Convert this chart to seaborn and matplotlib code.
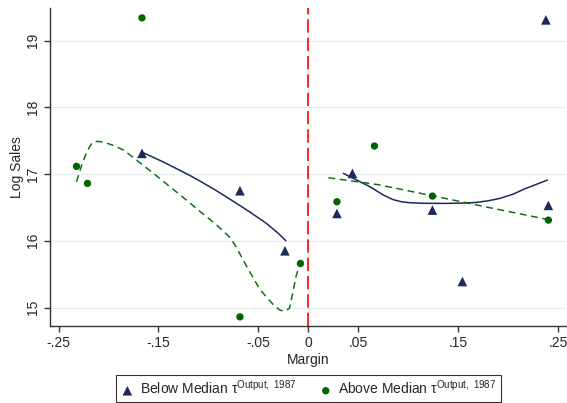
import matplotlib
matplotlib.use("Agg")
import matplotlib.pyplot as plt
import pandas as pd
import seaborn as sns

# scatter points
below_x = [-0.1665, -0.0685, -0.0235, 0.0285, 0.044, 0.124, 0.154, 0.240, 0.2375]
below_y = [17.31, 16.75, 15.85, 16.41, 17.01, 16.46, 15.39, 16.53, 19.31]
above_x = [-0.232, -0.221, -0.1665, -0.0685, -0.008, 0.0285, 0.066, 0.124, 0.240]
above_y = [17.115, 16.86, 19.34, 14.86, 15.66, 16.585, 17.42, 16.67, 16.31]

# smoothed fits (left / right of the cutoff)
below_fit_l_x = [-0.1668, -0.145, -0.120, -0.1085, -0.092, -0.075, -0.0585,
                 -0.042, -0.030, -0.0225]
below_fit_l_y = [17.33, 17.18, 16.99, 16.895, 16.75, 16.59, 16.43,
                 16.26, 16.11, 16.0]
below_fit_r_x = [0.035, 0.045, 0.0615, 0.075, 0.085, 0.093, 0.1015, 0.115,
                 0.135, 0.155, 0.168, 0.18, 0.1915, 0.205, 0.215, 0.227, 0.239]
below_fit_r_y = [17.01, 16.935, 16.81, 16.685, 16.615, 16.585, 16.57, 16.562,
                 16.56, 16.565, 16.575, 16.60, 16.635, 16.70, 16.77, 16.84, 16.91]
above_fit_l_x = [-0.232, -0.2268, -0.2218, -0.2168, -0.2118, -0.2052, -0.1952,
                 -0.185, -0.172, -0.155, -0.1385, -0.122, -0.1085, -0.092,
                 -0.0785, -0.072, -0.062, -0.0485, -0.035, -0.0285, -0.0235,
                 -0.019, -0.0158, -0.0125, -0.0085]
above_fit_l_y = [16.885, 17.135, 17.33, 17.46, 17.49, 17.48, 17.43,
                 17.36, 17.21, 17.01, 16.81, 16.61, 16.44, 16.24,
                 16.05, 15.90, 15.62, 15.27, 15.04, 14.96, 14.945,
                 14.99, 15.21, 15.46, 15.66]
above_fit_r_x = [0.020, 0.07, 0.124, 0.18, 0.239]
above_fit_r_y = [16.945, 16.84, 16.675, 16.50, 16.32]

xticks = [-0.25, -0.15, -0.05, 0, 0.05, 0.15, 0.25]
xtick_labels = ["-.25", "-.15", "-.05", "0", ".05", ".15", ".25"]
yticks = [15, 16, 17, 18, 19]

navy = "#1c2a5c"
green = "#006400"

sns.set_style("white")
plt.rcParams["font.family"] = ["Liberation Sans", "DejaVu Sans"]
plt.rcParams["mathtext.fontset"] = "custom"
plt.rcParams["mathtext.rm"] = "Liberation Sans"

fig = plt.figure(figsize=(5.67, 4.03), dpi=100)
ax = fig.add_axes([0.0882, 0.191, 0.9098, 0.789])

for y in yticks:
    ax.axhline(y, color="#e8eff1", lw=1, zorder=0)

ax.axvline(0, color="red", lw=1.2, dashes=(8, 3), zorder=1)

sns.lineplot(x=below_fit_l_x, y=below_fit_l_y, ax=ax, color=navy, lw=1.1, sort=False)
sns.lineplot(x=below_fit_r_x, y=below_fit_r_y, ax=ax, color=navy, lw=1.1, sort=False)
for xs, ys in [(above_fit_l_x, above_fit_l_y), (above_fit_r_x, above_fit_r_y)]:
    ln = sns.lineplot(x=xs, y=ys, ax=ax, color="#127012", lw=1.1, sort=False)
    ln.lines[-1].set_dashes((4.5, 3))

below = pd.DataFrame({"x": below_x, "y": below_y})
above = pd.DataFrame({"x": above_x, "y": above_y})
sns.scatterplot(data=below, x="x", y="y", ax=ax, marker="^", s=48, color=navy,
                edgecolor="none", zorder=3,
                label="Below Median τ$^{\\mathrm{Output,\\ 1987}}$")
sns.scatterplot(data=above, x="x", y="y", ax=ax, marker="o", s=28, color=green,
                edgecolor="none", zorder=3,
                label="Above Median τ$^{\\mathrm{Output,\\ 1987}}$")

ax.set_xlim(-0.2585, 0.2575)
ax.set_ylim(14.723, 19.487)
ax.set_xticks(xticks)
ax.set_xticklabels(xtick_labels, fontsize=10)
ax.set_yticks(yticks)
ax.set_yticklabels([str(v) for v in yticks], fontsize=10, rotation=90, va="center")
ax.tick_params(axis="both", direction="out", length=4, width=1, color="#333333",
               left=True, bottom=True)
ax.set_xlabel("Margin", fontsize=10, labelpad=2)
ax.set_ylabel("Log Sales", fontsize=10, labelpad=1)

for side in ["top", "right"]:
    ax.spines[side].set_visible(False)
for side in ["left", "bottom"]:
    ax.spines[side].set_color("#333333")
    ax.spines[side].set_linewidth(1)

ax.legend(loc="center", bbox_to_anchor=(0.544, 0.037), bbox_transform=fig.transFigure,
          ncol=2, fontsize=10, frameon=True, fancybox=False, edgecolor="black",
          handlelength=1.0, handletextpad=0.4, columnspacing=1.6, borderpad=0.3)
leg = ax.get_legend()
leg.get_frame().set_linewidth(0.8)

fig.savefig("out.png", dpi=100)
